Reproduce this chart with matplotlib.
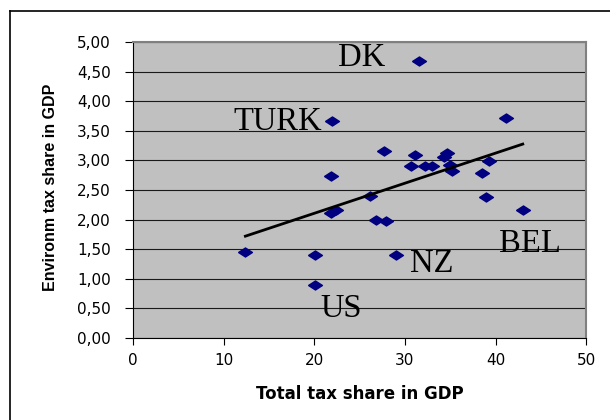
import numpy as np
import matplotlib
matplotlib.use("Agg")
import matplotlib.pyplot as plt
from matplotlib.lines import Line2D
from matplotlib.ticker import FuncFormatter

# total tax share (x) vs environmental tax share (y), % of GDP
total_tax = [31.6, 22.0, 41.1, 27.7, 31.1, 34.6, 34.35, 30.7, 32.2, 33.0,
             35.0, 35.2, 39.3, 38.5, 21.85, 39.0, 26.2, 43.0, 21.85, 22.4,
             26.8, 27.9, 29.0, 20.1, 20.1, 12.4]
env_tax = [4.68, 3.67, 3.72, 3.16, 3.09, 3.12, 3.05, 2.91, 2.91, 2.91,
           2.92, 2.83, 2.99, 2.78, 2.74, 2.38, 2.40, 2.17, 2.11, 2.17,
           1.99, 1.97, 1.41, 1.41, 0.90, 1.46]

label_text = ["DK", "TURK", "US", "NZ", "BEL"]
label_x = [25.2, 16.0, 23.0, 33.0, 43.8]
label_y = [4.74, 3.65, 0.49, 1.26, 1.60]

fig = plt.figure(figsize=(6.1, 4.2), dpi=100)
ax = fig.add_axes([0.218, 0.195, 0.743, 0.705])
ax.set_facecolor("#C0C0C0")

ax.set_xlim(0, 50)
ax.set_ylim(0, 5)
ax.set_yticks(np.arange(0, 5.01, 0.5))
ax.set_xticks(range(0, 51, 10))
ax.yaxis.set_major_formatter(FuncFormatter(lambda v, p: f"{v:.2f}".replace(".", ",")))
ax.grid(axis="y", color="#1a1a1a", linewidth=0.8)
ax.set_axisbelow(True)

diamond = [(-1, 0), (0, 0.65), (1, 0), (0, -0.65), (-1, 0)]
ax.plot(total_tax, env_tax, linestyle="none", marker=diamond, markersize=10,
        color="#000080", zorder=3)

# linear trend line
k, b = np.polyfit(total_tax, env_tax, 1)
xs = np.array([min(total_tax), max(total_tax)])
ax.plot(xs, k * xs + b, color="black", linewidth=2, zorder=4)

for t, x, y in zip(label_text, label_x, label_y):
    ax.text(x, y, t, fontsize=23.5, family="Liberation Serif",
            ha="center", va="center", zorder=5)

for s in ["left", "bottom"]:
    ax.spines[s].set_color("black")
for s in ["right", "top"]:
    ax.spines[s].set_color("#808080")
    ax.spines[s].set_linewidth(1.5)

ax.tick_params(labelsize=11, length=5)
ax.tick_params(axis="x", pad=6)
ax.tick_params(axis="y", length=6, pad=10)
for lab in ax.get_xticklabels() + ax.get_yticklabels():
    lab.set_family("DejaVu Sans")

ax.set_xlabel("Total tax share in GDP", fontsize=12, fontweight="bold",
              family="DejaVu Sans", va="top")
ax.xaxis.set_label_coords(0.5, -0.159)
ax.set_ylabel("Environm tax share in GDP", fontsize=11.5, fontweight="bold",
              family="Liberation Sans")
ax.yaxis.set_label_coords(-0.165, 0.51)

# outer chart frame (only left and top edges visible)
fig.add_artist(Line2D([0.0164, 0.0164], [0, 0.974], color="black", linewidth=1.2))
fig.add_artist(Line2D([0.0164, 1], [0.974, 0.974], color="black", linewidth=1.2))

fig.savefig("out.png", dpi=100)
